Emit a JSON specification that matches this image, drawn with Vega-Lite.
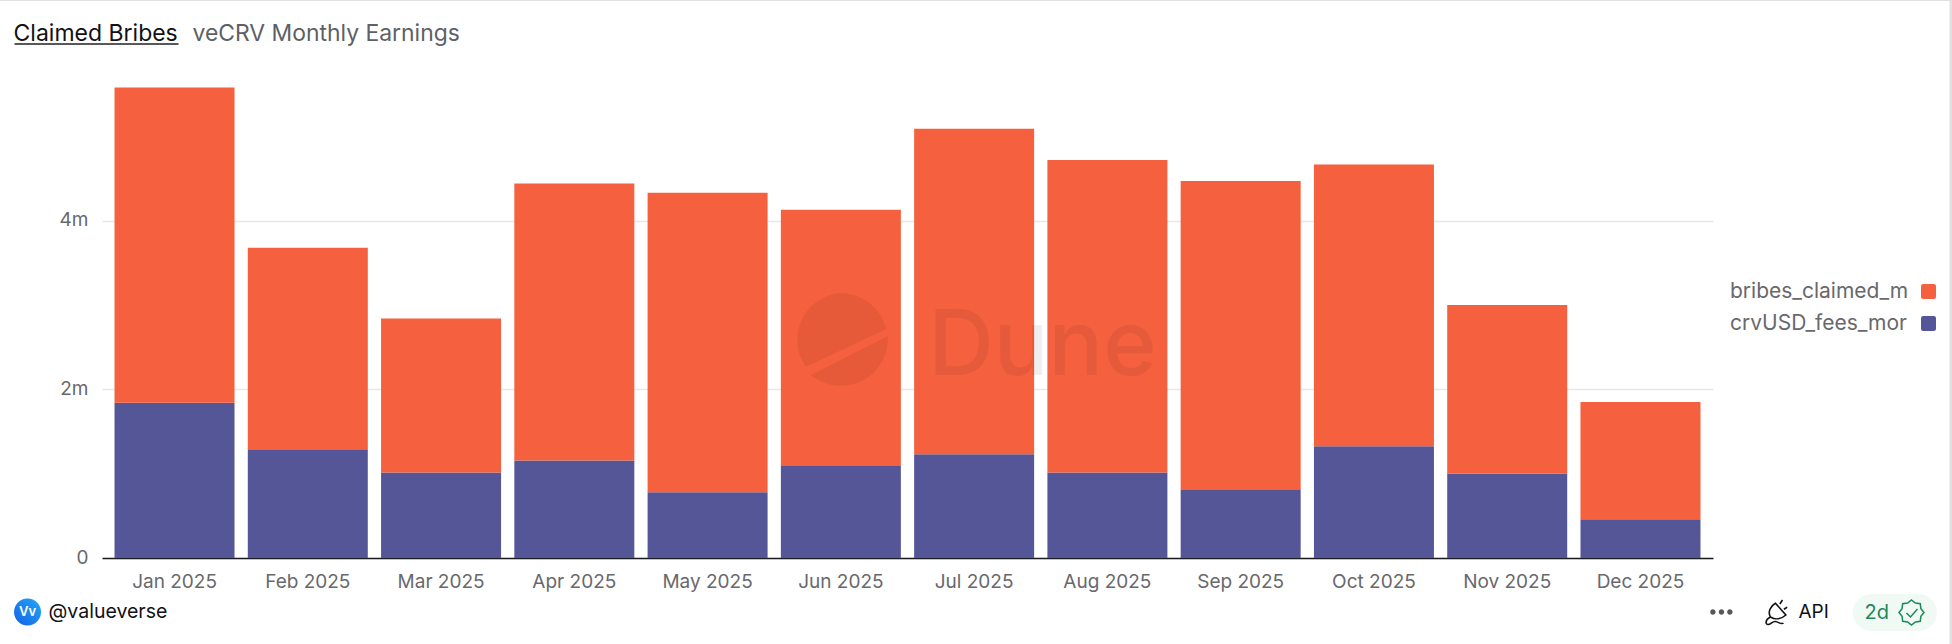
{
"$schema":"https://vega.github.io/schema/vega-lite/v6.json",
"autosize":{"type":"none"},
"padding":{"left":102,"top":52,"right":239,"bottom":86},
"width":1611,"height":506,
"background":"#ffffff",
"config":{"view":{"stroke":null},"font":"Inter"},
"data":{"values":[
{"month":"Jan 2025","series":"crvUSD_fees_monthly","value":1840000},{"month":"Jan 2025","series":"bribes_claimed_monthly","value":3740000},
{"month":"Feb 2025","series":"crvUSD_fees_monthly","value":1290000},{"month":"Feb 2025","series":"bribes_claimed_monthly","value":2390000},
{"month":"Mar 2025","series":"crvUSD_fees_monthly","value":1015000},{"month":"Mar 2025","series":"bribes_claimed_monthly","value":1825000},
{"month":"Apr 2025","series":"crvUSD_fees_monthly","value":1155000},{"month":"Apr 2025","series":"bribes_claimed_monthly","value":3285000},
{"month":"May 2025","series":"crvUSD_fees_monthly","value":780000},{"month":"May 2025","series":"bribes_claimed_monthly","value":3550000},
{"month":"Jun 2025","series":"crvUSD_fees_monthly","value":1100000},{"month":"Jun 2025","series":"bribes_claimed_monthly","value":3030000},
{"month":"Jul 2025","series":"crvUSD_fees_monthly","value":1230000},{"month":"Jul 2025","series":"bribes_claimed_monthly","value":3860000},
{"month":"Aug 2025","series":"crvUSD_fees_monthly","value":1015000},{"month":"Aug 2025","series":"bribes_claimed_monthly","value":3705000},
{"month":"Sep 2025","series":"crvUSD_fees_monthly","value":815000},{"month":"Sep 2025","series":"bribes_claimed_monthly","value":3655000},
{"month":"Oct 2025","series":"crvUSD_fees_monthly","value":1325000},{"month":"Oct 2025","series":"bribes_claimed_monthly","value":3340000},
{"month":"Nov 2025","series":"crvUSD_fees_monthly","value":1000000},{"month":"Nov 2025","series":"bribes_claimed_monthly","value":2000000},
{"month":"Dec 2025","series":"crvUSD_fees_monthly","value":460000},{"month":"Dec 2025","series":"bribes_claimed_monthly","value":1390000}
]},
"encoding":{
"x":{"field":"month","type":"nominal","title":null,
 "scale":{"domain":["Jan 2025","Feb 2025","Mar 2025","Apr 2025","May 2025","Jun 2025","Jul 2025","Aug 2025","Sep 2025","Oct 2025","Nov 2025","Dec 2025"],"paddingInner":0.0996,"paddingOuter":0.094},
 "axis":{"labelAngle":0,"labelFontSize":19,"labelColor":"#68686d","labelPadding":14,"ticks":false,"domainColor":"#1c1c22","domainWidth":1.5,"grid":false,"labelFont":"Inter"}}
},
"layer":[
{"mark":{"type":"bar","width":120},
 "encoding":{
  "y":{"field":"value","type":"quantitative","stack":"zero","title":null,"scale":{"domain":[0,6000000],"nice":false},
   "axis":{"values":[0,2000000,4000000],"labelExpr":"datum.value==0?'0':(datum.value/1000000)+'m'","labelFontSize":19,"labelColor":"#68686d","labelPadding":14,"labelOffset":-1,"ticks":false,"domain":false,"grid":true,"gridColor":"#e8e8ea","gridWidth":1.5,"labelFont":"Inter"}},
  "color":{"field":"series","type":"nominal","scale":{"domain":["bribes_claimed_monthly","crvUSD_fees_monthly"],"range":["#F5603E","#555698"]},
   "legend":{"orient":"none","legendX":1628,"legendY":229,"title":null,"labelExpr":"datum.label=='bribes_claimed_monthly'?'bribes_claimed_m':'crvUSD_fees_mor'","symbolType":"M-0.7,-1H0.7Q1,-1 1,-0.7V0.7Q1,1 0.7,1H-0.7Q-1,1 -1,0.7V-0.7Q-1,-1 -0.7,-1Z","symbolSize":225,"symbolOffset":188,"labelOffset":-209,"labelFontSize":21,"labelColor":"#68686d","labelFont":"Inter","rowPadding":10,"labelLimit":260,"symbolStrokeWidth":0}}
 }},
{"data":{"values":[{}]},"mark":{"type":"point","filled":true,"size":4,"color":"#000000","opacity":0.06,"shape":"M0,-47A47,47 0 0 1 45.5,-11L-35,27A47,47 0 0 1 0,-47ZM47,-4A47,47 0 0 1 -30,35Z"},
 "encoding":{"x":{"datum":"Jun 2025"},"y":{"datum":2586000}}},
{"data":{"values":[{"t":"Dune"}]},"mark":{"type":"text","font":"Inter","fontSize":91,"fontWeight":500,"align":"left","baseline":"alphabetic","color":"#000000","opacity":0.06,"dx":-46},
 "encoding":{"x":{"datum":"Jul 2025"},"y":{"datum":2170000},"text":{"field":"t"}}},
{"data":{"values":[{"t":"Claimed Bribes"}]},"mark":{"type":"text","font":"Inter","fontSize":23,"align":"left","baseline":"alphabetic","color":"#111116","dx":-161,"dy":-11},
 "encoding":{"x":{"datum":"Jan 2025"},"y":{"datum":6000000},"text":{"field":"t"}}},
{"data":{"values":[{}]},"mark":{"type":"point","filled":true,"size":4,"color":"#111116","shape":"M-160,-9H4V-7H-160Z"},
 "encoding":{"x":{"datum":"Jan 2025"},"y":{"datum":6000000}}},
{"data":{"values":[{"t":"veCRV Monthly Earnings"}]},"mark":{"type":"text","font":"Inter","fontSize":22.9,"align":"left","baseline":"alphabetic","color":"#5f5f66","dx":18,"dy":-11},
 "encoding":{"x":{"datum":"Jan 2025"},"y":{"datum":6000000},"text":{"field":"t"}}},
{"data":{"values":[{}]},"mark":{"type":"point","filled":true,"size":4,"color":"#d3d3d6","shape":"M-180,-52H1780V-51H-180ZM1775,-52H1778V600H1775Z"},
 "encoding":{"x":{"datum":"Jan 2025"},"y":{"datum":6000000}}},
{"data":{"values":[{}]},"mark":{"type":"point","filled":true,"size":4,"fill":{"gradient":"linear","x1":0,"y1":1,"x2":1,"y2":0,"stops":[{"offset":0,"color":"#1560E6"},{"offset":1,"color":"#22A8F8"}]},"opacity":1,"shape":"M-160.5,54A13.5,13.5 0 0 1 -133.5,54A13.5,13.5 0 0 1 -160.5,54Z"},
 "encoding":{"x":{"datum":"Jan 2025"},"y":{"datum":0}}},
{"data":{"values":[{"t":"Vv"}]},"mark":{"type":"text","font":"Inter","fontSize":13,"fontWeight":600,"color":"#ffffff","dx":-147,"dy":54,"align":"center","baseline":"middle"},
 "encoding":{"x":{"datum":"Jan 2025"},"y":{"datum":0},"text":{"field":"t"}}},
{"data":{"values":[{"t":"@valueverse"}]},"mark":{"type":"text","font":"Inter","fontSize":19.5,"color":"#111116","dx":-126,"dy":60,"align":"left","baseline":"alphabetic"},
 "encoding":{"x":{"datum":"Jan 2025"},"y":{"datum":0},"text":{"field":"t"}}},
{"data":{"values":[{}]},"mark":{"type":"point","filled":true,"size":4,"color":"#111116","shape":"M69.7,54A2.7,2.7 0 0 1 75.1,54A2.7,2.7 0 0 1 69.7,54ZM78.3,54A2.7,2.7 0 0 1 83.7,54A2.7,2.7 0 0 1 78.3,54ZM86.7,54A2.7,2.7 0 0 1 92.1,54A2.7,2.7 0 0 1 86.7,54Z"},
 "encoding":{"x":{"datum":"Dec 2025"},"y":{"datum":0}}},
{"data":{"values":[{}]},"mark":{"type":"point","filled":false,"size":4,"stroke":"#111116","strokeWidth":1.6,"opacity":1,"shape":"M139.4,46L142,42M143.4,51.3L146.7,49.3M135,45.3L145.4,57C141,61 135,62 130,59C127,54 130,48 135,45.3ZM130,59C124,62 125,67 128,66.5C131,66 132,63 135,63.5C138,64 141,67 143,65"},
 "encoding":{"x":{"datum":"Dec 2025"},"y":{"datum":0}}},
{"data":{"values":[{"t":"API"}]},"mark":{"type":"text","font":"Inter","fontSize":19,"color":"#111116","dx":158,"dy":60,"align":"left","baseline":"alphabetic"},
 "encoding":{"x":{"datum":"Dec 2025"},"y":{"datum":0},"text":{"field":"t"}}},
{"data":{"values":[{}]},"mark":{"type":"point","filled":true,"size":4,"color":"#E9F7EF","shape":"M231,36H278A18.5,18.5 0 0 1 278,73H231A18.5,18.5 0 0 1 231,36Z"},
 "encoding":{"x":{"datum":"Dec 2025"},"y":{"datum":0}}},
{"data":{"values":[{"t":"2d"}]},"mark":{"type":"text","font":"Inter","fontSize":20,"color":"#1A8A5C","dx":224,"dy":61,"align":"left","baseline":"alphabetic"},
 "encoding":{"x":{"datum":"Dec 2025"},"y":{"datum":0},"text":{"field":"t"}}},
{"data":{"values":[{}]},"mark":{"type":"point","filled":false,"size":4,"stroke":"#1A8A5C","strokeWidth":1.5,"opacity":1,"shape":"M271,42L274.9,45.1L279.8,45.7L280.4,50.6L283.5,54.5L280.4,58.4L279.8,63.3L274.9,63.9L271,67L267.1,63.9L262.2,63.3L261.6,58.4L258.5,54.5L261.6,50.6L262.2,45.7L267.1,45.1ZM266,55L270,59L277,51"},
 "encoding":{"x":{"datum":"Dec 2025"},"y":{"datum":0}}}
]
}
